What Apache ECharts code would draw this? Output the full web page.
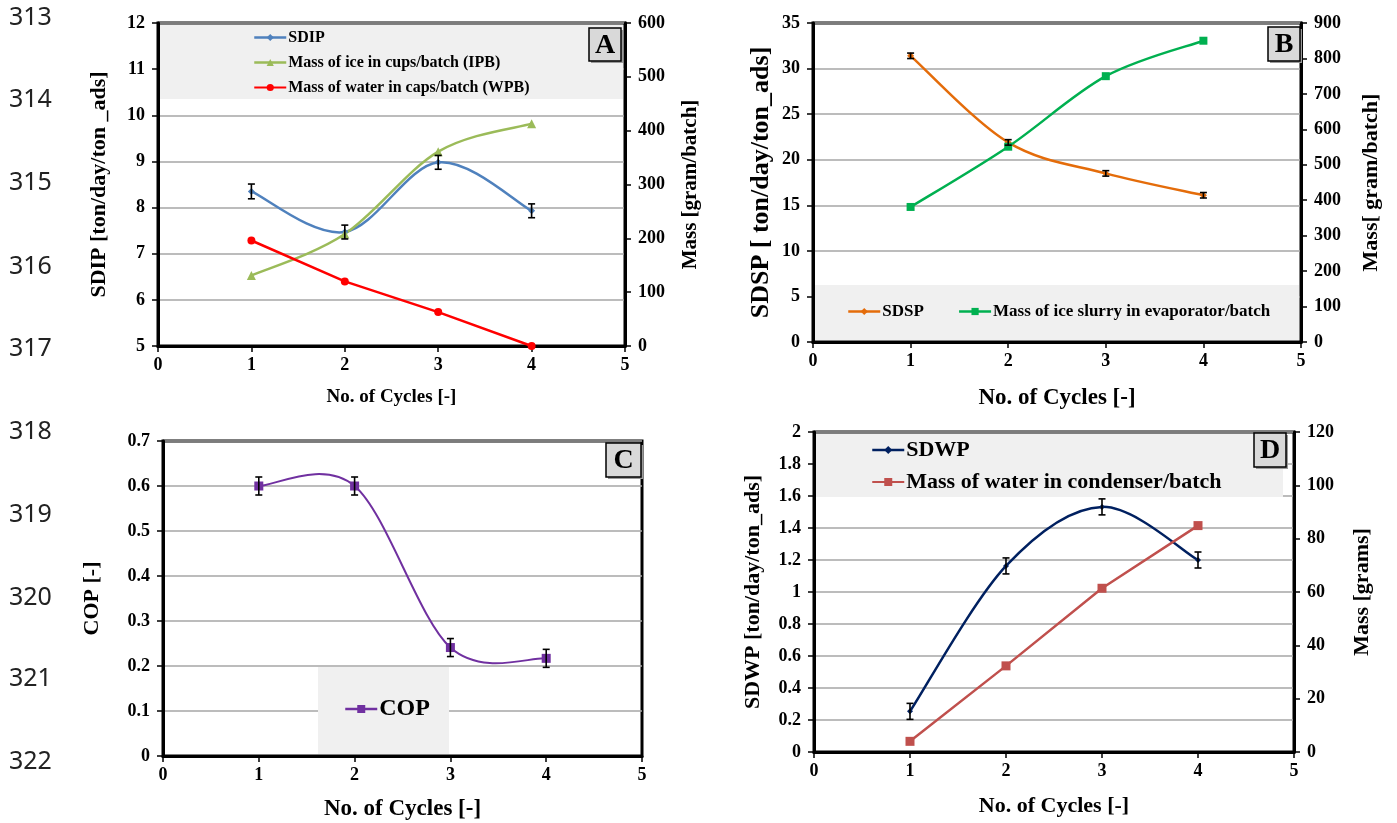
<!DOCTYPE html>
<html><head><meta charset="utf-8">
<script src="https://cdn.jsdelivr.net/npm/echarts@6/dist/echarts.min.js"></script>
<style>html,body{margin:0;padding:0;background:#fff}#c{width:1397px;height:823px}</style>
</head><body><div id="c"></div>
<script>
// ---------- data ----------
const cycles = [1, 2, 3, 4];
// Panel A
const sdip = [8.35, 7.47, 8.98, 7.93];
const sdipErr = [0.16, 0.15, 0.15, 0.15];
const ipb = [131, 208, 361, 413];
const wpb = [196, 120, 63, 0];
// Panel B
const sdsp = [31.4, 21.9, 18.5, 16.1];
const sdspErr = [0.3, 0.3, 0.3, 0.3];
const iceSlurry = [381, 551, 750, 850];
// Panel C
const cop = [0.600, 0.600, 0.241, 0.217];
const copErr = [0.02, 0.02, 0.02, 0.02];
// Panel D
const sdwp = [0.254, 1.163, 1.532, 1.20];
const sdwpErr = [0.05, 0.05, 0.05, 0.05];
const waterCond = [4.0, 32.3, 61.4, 84.9];
// line numbers at the margin
const lineNumbers = ['313','314','315','316','317','318','319','320','321','322'];
const lineNumberY = [18, 100, 183, 267, 349, 432, 515, 598, 679, 762];

// ---------- layout ----------
const SERIF = '"Liberation Serif", "Times New Roman", serif';
const G = [
  {left:158, top:23,  width:467, height:323},
  {left:813, top:23,  width:488, height:319},
  {left:163, top:441, width:479, height:315},
  {left:814, top:432, width:480, height:320}
];
const pts = arr => cycles.map((c, i) => [c, arr[i]]);

function xAxis(gi, nameSize, gap) {
  return {
    type:'value', gridIndex:gi, min:0, max:5, interval:1,
    axisLine:{show:true, lineStyle:{color:'#000', width:3}},
    axisTick:{show:true, inside:false, length:6, lineStyle:{color:'#000', width:1.5}},
    axisLabel:{color:'#000', fontFamily:SERIF, fontWeight:'bold', fontSize:18, margin:10},
    splitLine:{show:false},
    name:'No. of Cycles [-]', nameLocation:'middle', nameGap:gap,
    nameTextStyle:{color:'#000', fontFamily:SERIF, fontWeight:'bold', fontSize:nameSize}
  };
}
function yAxis(gi, pos, min, max, interval, name, nameSize, gap, split) {
  return {
    type:'value', gridIndex:gi, position:pos, min, max, interval,
    axisLine:{show:true, onZero:false, lineStyle:{color:'#000', width:3}},
    axisTick:{show:true, inside:false, length:6, lineStyle:{color:'#000', width:1.5}},
    axisLabel:{color:'#000', fontFamily:SERIF, fontWeight:'bold', fontSize:18, margin:13},
    splitLine:{show:split, lineStyle:{color:'#A6A6A6', width:1.5}},
    name, nameLocation:'middle', nameRotate:90, nameGap:gap,
    nameTextStyle:{color:'#000', fontFamily:SERIF, fontWeight:'bold', fontSize:nameSize}
  };
}
// marker + (optionally) straight line series; smooth curves are drawn by smoothSeries
function lineSeries(name, xi, yi, data, color, symbol, size, straight, width) {
  return {
    name, type:'line', xAxisIndex:xi, yAxisIndex:yi, data:pts(data),
    smooth:false, symbol, symbolSize:size, showSymbol:true,
    lineStyle: straight ? {color, width} : {color, width:0, opacity:0},
    itemStyle:{color}, z:3
  };
}
// Excel-like smoothed scatter line (Catmull-Rom style bezier through the data points)
function smoothSeries(xi, yi, vals, color, width) {
  return {
    type:'custom', xAxisIndex:xi, yAxisIndex:yi, silent:true, z:2,
    encode:{x:0, y:1},
    data: cycles.map((c, i) => [c, vals[i]]),
    renderItem(params, api) {
      const i = params.dataIndex, n = cycles.length;
      if (i >= n - 1) return null;
      const P = j => { j = Math.max(0, Math.min(n - 1, j)); return api.coord([cycles[j], vals[j]]); };
      const p0 = P(i - 1), p1 = P(i), p2 = P(i + 1), p3 = P(i + 2);
      const t = 1 / 6;
      return {
        type:'bezierCurve',
        shape:{
          x1:p1[0], y1:p1[1], x2:p2[0], y2:p2[1],
          cpx1:p1[0] + (p2[0] - p0[0]) * t, cpy1:p1[1] + (p2[1] - p0[1]) * t,
          cpx2:p2[0] - (p3[0] - p1[0]) * t, cpy2:p2[1] - (p3[1] - p1[1]) * t
        },
        style:{stroke:color, lineWidth:width, fill:null}
      };
    }
  };
}
function errSeries(xi, yi, vals, errs) {
  return {
    type:'custom', xAxisIndex:xi, yAxisIndex:yi, silent:true, z:4,
    encode:{x:0, y:[1,2]},
    data: cycles.map((c, i) => [c, vals[i]-errs[i], vals[i]+errs[i]]),
    renderItem(params, api) {
      const x = api.value(0);
      const lo = api.coord([x, api.value(1)]);
      const hi = api.coord([x, api.value(2)]);
      const w = 3.5, st = {stroke:'#000', lineWidth:1.6};
      return {type:'group', children:[
        {type:'line', shape:{x1:lo[0], y1:lo[1], x2:hi[0], y2:hi[1]}, style:st},
        {type:'line', shape:{x1:lo[0]-w, y1:lo[1], x2:lo[0]+w, y2:lo[1]}, style:st},
        {type:'line', shape:{x1:hi[0]-w, y1:hi[1], x2:hi[0]+w, y2:hi[1]}, style:st}
      ]};
    }
  };
}
function greyBox(x, y, w, h) {
  return {type:'rect', z:1, silent:true, shape:{x, y, width:w, height:h}, style:{fill:'#F0F0F0'}};
}
function letterBox(letter, x, y, w, h) {
  return [
    {type:'rect', z:20, shape:{x:x+2, y:y+2, width:w, height:h}, style:{fill:'#9A9A9A'}},
    {type:'rect', z:21, shape:{x, y, width:w, height:h}, style:{fill:'#D9D9D9', stroke:'#000', lineWidth:1.5}},
    {type:'text', z:22, x:x+w/2, y:y+h/2+1, style:{text:letter, fill:'#000', font:'bold 28px ' + SERIF, align:'center', verticalAlign:'middle'}}
  ];
}

const colors = {
  sdip:'#4F81BD', ipb:'#9BBB59', wpb:'#FF0000',
  sdsp:'#E46C0A', slurry:'#00B050', cop:'#7030A0',
  sdwp:'#002060', water:'#C0504D'
};
const legendItem = (name, color, width) => ({name, lineStyle:{color, width, opacity:1}});

const graphics = [
  greyBox(G[0].left+2, G[0].top+2, G[0].width-4, 74),
  greyBox(G[1].left+2, 285, G[1].width-4, 55),
  greyBox(318, 667, 131, 87),
  greyBox(G[3].left+2, G[3].top+2, 467, 63),
  ...letterBox('A', 589, 28, 32, 33),
  ...letterBox('B', 1268, 27, 32, 34),
  ...letterBox('C', 606, 443, 35, 34),
  ...letterBox('D', 1254, 433, 32, 34)
];
lineNumbers.forEach((t, i) => {
  graphics.push({type:'text', x:9, y:lineNumberY[i], style:{text:t, fill:'#222', font:'25px "Noto Sans", sans-serif', verticalAlign:'middle'}});
});

const option = {
  backgroundColor:'#fff',
  animation:false,
  grid: G.map(g => Object.assign({show:true, borderColor:'#000', borderWidth:3, backgroundColor:'rgba(0,0,0,0)'}, g)),
  xAxis:[ xAxis(0, 19, 42), xAxis(1, 23, 45), xAxis(2, 23, 42), xAxis(3, 22, 43) ],
  yAxis:[
    yAxis(0, 'left', 5, 12, 1, 'SDIP [ton/day/ton _ads]', 22, 48, true),
    yAxis(0, 'right', 0, 600, 100, 'Mass [gram/batch]', 21, 55, false),
    yAxis(1, 'left', 0, 35, 5, 'SDSP [ ton/day/ton_ads]', 26, 39, true),
    yAxis(1, 'right', 0, 900, 100, 'Mass[ gram/batch]', 22, 59, false),
    yAxis(2, 'left', 0, 0.7, 0.1, 'COP [-]', 22, 60, true),
    yAxis(3, 'left', 0, 2, 0.2, 'SDWP [ton/day/ton_ads]', 22, 50, true),
    yAxis(3, 'right', 0, 120, 20, 'Mass [grams]', 22, 57, false)
  ],
  legend:[
    {data:[legendItem('SDIP', colors.sdip, 2.5), legendItem('Mass of ice in cups/batch (IPB)', colors.ipb, 2.5), 'Mass of water in caps/batch (WPB)'],
     orient:'vertical', left:253, top:29, padding:0, itemWidth:32, itemHeight:9, itemGap:8,
     textStyle:{color:'#000', fontFamily:SERIF, fontWeight:'bold', fontSize:16, lineHeight:17, padding:[0,0,0,-3]}},
    {data:[legendItem('SDSP', colors.sdsp, 2.5), legendItem('Mass of ice slurry in evaporator/batch', colors.slurry, 2.5)],
     orient:'horizontal', left:847, top:303, padding:0, itemWidth:32, itemHeight:9, itemGap:34,
     textStyle:{color:'#000', fontFamily:SERIF, fontWeight:'bold', fontSize:17, padding:[0,0,0,-3]}},
    {data:[legendItem('COP', colors.cop, 2.5)], orient:'horizontal', left:344, top:697, padding:0, itemWidth:32, itemHeight:10,
     textStyle:{color:'#000', fontFamily:SERIF, fontWeight:'bold', fontSize:24, padding:[0,0,0,-3]}},
    {data:[legendItem('SDWP', colors.sdwp, 2.5), 'Mass of water in condenser/batch'], orient:'vertical', left:871, top:438, padding:0,
     itemWidth:32, itemHeight:10, itemGap:8,
     textStyle:{color:'#000', fontFamily:SERIF, fontWeight:'bold', fontSize:22, lineHeight:24, padding:[0,0,0,-3]}}
  ],
  graphic: graphics,
  series:[
    smoothSeries(0, 0, sdip, colors.sdip, 2.5),
    smoothSeries(0, 1, ipb, colors.ipb, 2.5),
    lineSeries('SDIP', 0, 0, sdip, colors.sdip, 'diamond', 7, false, 2.5),
    lineSeries('Mass of ice in cups/batch (IPB)', 0, 1, ipb, colors.ipb, 'triangle', 9, false, 2.5),
    lineSeries('Mass of water in caps/batch (WPB)', 0, 1, wpb, colors.wpb, 'circle', 8, true, 2.5),
    errSeries(0, 0, sdip, sdipErr),
    smoothSeries(1, 2, sdsp, colors.sdsp, 2.5),
    smoothSeries(1, 3, iceSlurry, colors.slurry, 2.5),
    lineSeries('SDSP', 1, 2, sdsp, colors.sdsp, 'diamond', 7, false, 2.5),
    lineSeries('Mass of ice slurry in evaporator/batch', 1, 3, iceSlurry, colors.slurry, 'rect', 8, false, 2.5),
    errSeries(1, 2, sdsp, sdspErr),
    smoothSeries(2, 4, cop, colors.cop, 2),
    lineSeries('COP', 2, 4, cop, colors.cop, 'rect', 9, false, 2),
    errSeries(2, 4, cop, copErr),
    smoothSeries(3, 5, sdwp, colors.sdwp, 2.5),
    lineSeries('SDWP', 3, 5, sdwp, colors.sdwp, 'diamond', 6, false, 2.5),
    lineSeries('Mass of water in condenser/batch', 3, 6, waterCond, colors.water, 'rect', 9, true, 2.5),
    errSeries(3, 5, sdwp, sdwpErr)
  ]
};
const chart = echarts.init(document.getElementById('c'), null, {renderer:'canvas'});
chart.setOption(option);
</script>
</body></html>
